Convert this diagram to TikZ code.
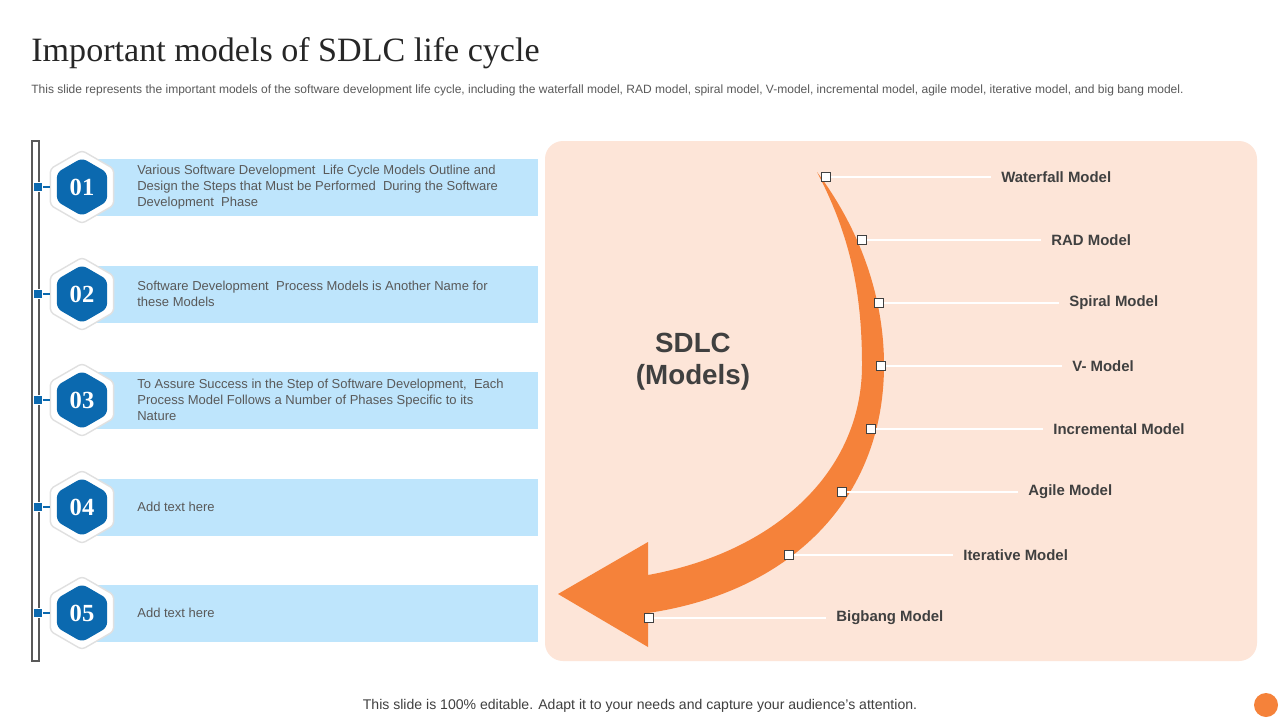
\documentclass[tikz,border=0pt]{standalone}
\usepackage{fontspec}
\setmainfont{Liberation Sans}
\newfontfamily\titlefont{Liberation Serif}
\usetikzlibrary{shapes.geometric}

\definecolor{hexblue}{HTML}{0B69AF}
\definecolor{barblue}{HTML}{BEE5FC}
\definecolor{peach}{HTML}{FDE5D8}
\definecolor{arroworange}{HTML}{F5823A}
\definecolor{textgray}{HTML}{595959}
\definecolor{labelgray}{HTML}{404040}

\begin{document}
\begin{tikzpicture}[x=0.02cm, y=-0.02cm,
    hexout/.style={regular polygon, regular polygon sides=6, shape border rotate=30,
      minimum size=1.46cm, inner sep=0pt, fill=white, draw=black!12, line width=0.8pt, rounded corners=2pt},
    hexin/.style={regular polygon, regular polygon sides=6, shape border rotate=30,
      minimum size=1.16cm, inner sep=0pt, fill=hexblue, rounded corners=3pt,
      text=white, font=\titlefont\bfseries\fontsize{14}{14}\selectfont},
    dotbox/.style={rectangle, minimum size=0.17cm, inner sep=0pt, fill=hexblue, draw=white, line width=0.6pt},
    knot/.style={rectangle, minimum size=0.19cm, inner sep=0pt, fill=white, draw=labelgray, line width=0.5pt},
    bodytext/.style={anchor=west, inner sep=0pt, align=left, text=textgray,
      font=\fontsize{7.4}{9.1}\selectfont},
    modellabel/.style={anchor=west, inner sep=0pt, text=labelgray, font=\bfseries\fontsize{8.5}{10}\selectfont}]
  \useasboundingbox (0,0) rectangle (1280,720);
  \fill[white] (0,0) rectangle (1280,720);

  % title and subtitle
  \node[anchor=base west, inner sep=0pt, text=black!85, font=\titlefont\fontsize{19.4}{21}\selectfont] (title) at (31,61) {Important models of SDLC life cycle};
  \node[anchor=base west, inner sep=0pt, text=textgray, font=\fontsize{6.84}{7.5}\selectfont] (subtitle) at (31,93) {This slide represents the important models of the software development life cycle, including the waterfall model, RAD model, spiral model, V-model, incremental model, agile model, iterative model, and big bang model.};

  % left timeline
  \draw[draw=textgray, fill=white, line width=0.6pt] (32,141) rectangle (39,661);
  \foreach \y/\num in {187/01, 294/02, 400/03, 507/04, 613/05}{
    \fill[barblue] (82,\y-28) rectangle (538,\y+29);
    \node[hexout] (hexo\num) at (82,\y) {};
    \node[hexin] (hex\num) at (82,\y) {\num};
    \node[dotbox] (dot\num) at (38,\y) {};
    \draw[hexblue, line width=0.6pt] (dot\num) -- (hexo\num);
  }
  \node[bodytext] (text01) at (137,187) {Various Software Development\ \ Life Cycle Models Outline and\\Design the Steps that Must be Performed\ \ During the Software\\Development\ \ Phase};
  \node[bodytext] (text02) at (137,294) {Software Development\ \ Process Models is Another Name for\\these Models};
  \node[bodytext] (text03) at (137,400) {To Assure Success in the Step of Software Development,\ \ Each\\Process Model Follows a Number of Phases Specific to its\\Nature};
  \node[bodytext] (text04) at (137,507) {Add text here};
  \node[bodytext] (text05) at (137,613) {Add text here};

  % right panel
  \fill[peach, rounded corners=0.36cm] (545,141) rectangle (1257,661);
  \node[text=labelgray, align=center, font=\bfseries\fontsize{15.8}{18.2}\selectfont] (sdlc) at (693,362) {SDLC\\(Models)};

  % curved arrow
  \fill[arroworange] (817,172) .. controls (862,232) and (884,300) .. (884,365)
    .. controls (884,500) and (790,592) .. (648,613)
    -- (648,647) -- (558,594) -- (648,542) -- (648,575)
    .. controls (775,552) and (862,472) .. (862,365)
    .. controls (862,292) and (850,235) .. (817,172) -- cycle;

  % models
  \foreach \px/\py/\lx/\name/\tag in {826/177/1001/Waterfall Model/wf, 862/240/1051/RAD Model/rad,
      879/303/1069/Spiral Model/spi, 881/366/1072/V- Model/v, 871/429/1053/Incremental Model/inc,
      842/492/1028/Agile Model/agi, 789/555/963/Iterative Model/it, 649/618/836/Bigbang Model/bb}{
    \node[modellabel] (lab\tag) at (\lx,\py) {\name};
    \node[knot] (knot\tag) at (\px,\py) {};
    \draw[white, line width=0.6pt] (knot\tag) -- ([xshift=-0.2cm]lab\tag.west);
    \node[knot] at (knot\tag) {};
  }

  % footer
  \node[anchor=base, inner sep=0pt, text=labelgray, font=\fontsize{8}{9}\selectfont] (footer) at (640,709) {This slide is 100\% editable. Adapt it to your needs and capture your audience's attention.};
  \fill[arroworange] (1266,705) circle (0.24cm);
\end{tikzpicture}
\end{document}
